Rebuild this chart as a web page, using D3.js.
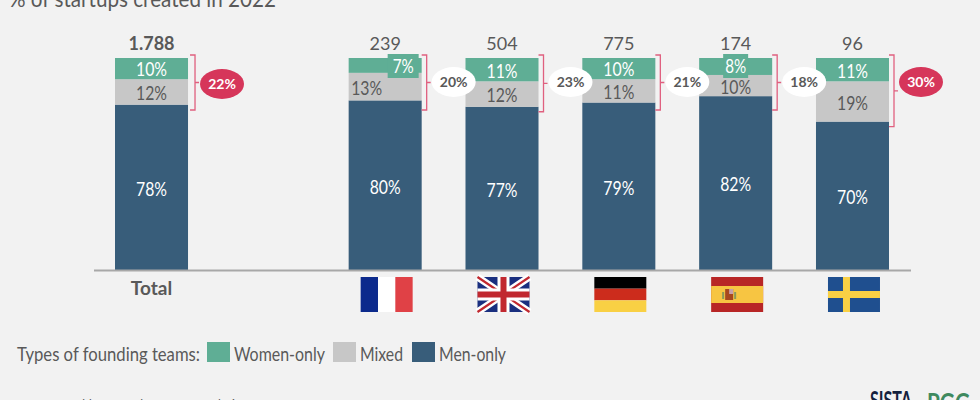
<!DOCTYPE html>
<html>
<head>
<meta charset="utf-8">
<script src="https://cdn.jsdelivr.net/npm/d3@7"></script>
<style>
  html, body { margin: 0; padding: 0; background: #f2f2f2; overflow: hidden; }
  svg { display: block; font-family: Lato, sans-serif; }
  text { fill: #595959; }
</style>
</head>
<body>
<script>
// chart data
const categories = ["Total", "blank", "France", "UK", "Germany", "Spain", "Sweden"];
const countries = ["Total", "France", "UK", "Germany", "Spain", "Sweden"];
const teamCounts = ["1.788", "239", "504", "775", "174", "96"];
const womenOnly = [10, 7, 11, 10, 8, 11];
const mixed = [12, 13, 12, 11, 10, 19];
const menOnly = [78, 80, 77, 79, 82, 70];
const withWomen = [22, 20, 23, 21, 18, 30];
const highlighted = ["Total", "Sweden"];
const seriesKeys = ["men", "mixed", "women"];
const seriesNames = ["Women-only", "Mixed", "Men-only"];
const legendTitle = "Types of founding teams:";
const title = "% of startups created in 2022";
const source = "Source: Crunchbase, Dealroom, 2SS analysis";

const width = 980;
const height = 400;
const colors = { women: "#5fae95", mixed: "#c7c7c7", men: "#385d7a" };
const pink = "#d6365a";

const rows = countries.map((c, i) => ({
  country: c,
  count: teamCounts[i],
  women: womenOnly[i],
  mixed: mixed[i],
  men: menOnly[i],
  share: withWomen[i],
}));

const svg = d3.select("body").append("svg").attr("width", width).attr("height", height);

const x = d3.scaleBand().domain(categories).range([115, 889]).paddingInner(0.375);
const y = d3.scaleLinear().domain([0, 100]).range([270, 58]);

svg
  .append("text")
  .attr("x", 9)
  .attr("y", 7)
  .attr("font-size", 24)
  .attr("textLength", 267)
  .attr("lengthAdjust", "spacingAndGlyphs")
  .text(title);

// stacked bars
const stacked = d3.stack().keys(seriesKeys)(rows);
svg
  .append("g")
  .selectAll("g")
  .data(stacked)
  .join("g")
  .attr("fill", (s) => colors[s.key])
  .selectAll("rect")
  .data((s) => s)
  .join("rect")
  .attr("x", (d) => x(d.data.country))
  .attr("y", (d) => y(d[1]))
  .attr("width", x.bandwidth())
  .attr("height", (d) => y(d[0]) - y(d[1]));

// two small segments get a wider tab behind the label
const tabs = [
  { country: "France", dx: 54.5, w: 31 },
  { country: "Spain", dx: 36.5, w: 25 },
];
tabs.forEach((t) => {
  const r = rows.find((d) => d.country === t.country);
  svg
    .append("rect")
    .attr("x", x(t.country) + t.dx - t.w / 2)
    .attr("y", y(100) - 4)
    .attr("width", t.w)
    .attr("height", 24)
    .attr("fill", colors.women);
  r.womenDx = t.dx;
});

// segment labels
const labels = svg.append("g").attr("text-anchor", "middle").attr("font-size", 19);
const labelShift = { men: 1.5, mixed: 1.5, women: 1 };
stacked.forEach((s) => {
  labels
    .selectAll(null)
    .data(s)
    .join("text")
    .attr("x", (d) => {
      if (s.key === "women" && d.data.womenDx) return x(d.data.country) + d.data.womenDx;
      if (s.key === "mixed" && d.data.country === "France") return x(d.data.country) + 18;
      return x(d.data.country) + x.bandwidth() / 2;
    })
    .attr("y", (d) => {
      if (s.key === "women" && d.data.womenDx) return y(100) + 8.5;
      return (y(d[0]) + y(d[1])) / 2 + labelShift[s.key];
    })
    .attr("dy", "0.36em")
    .attr("textLength", (d) => (d.data[s.key] < 10 ? 21 : 31))
    .attr("lengthAdjust", "spacingAndGlyphs")
    .style("fill", s.key === "mixed" ? "#595959" : "#fff")
    .text((d) => d.data[s.key] + "%");
});

// totals above the bars
svg
  .append("g")
  .attr("text-anchor", "middle")
  .attr("font-size", 18)
  .selectAll("text")
  .data(rows)
  .join("text")
  .attr("x", (d) => x(d.country) + x.bandwidth() / 2)
  .attr("y", 50)
  .attr("font-weight", (d) => (d.country === "Total" ? "bold" : "normal"))
  .text((d) => d.count);

// brackets and share bubbles
const bracket = svg.append("g").attr("fill", "none").attr("stroke", "#e0607f").attr("stroke-width", 1.3);
rows.forEach((d) => {
  const bx = x(d.country) + x.bandwidth() + (d.country === "Total" ? 2 : 0);
  const top = 55;
  const bottom = Math.max(110, y(d.men) + 5);
  const mid = (top + bottom) / 2;
  bracket
    .append("path")
    .attr("d", `M${bx},${top}H${bx + 5}V${bottom}H${bx}M${bx + 5},${mid}H${bx + 9}`);
  const hot = highlighted.includes(d.country);
  const cx = bx + 32;
  const cy = d.country === "Total" ? 84 : 82;
  svg
    .append("ellipse")
    .attr("cx", cx)
    .attr("cy", cy)
    .attr("rx", 22)
    .attr("ry", 15)
    .attr("fill", hot ? pink : "#fff");
  svg
    .append("text")
    .attr("x", cx)
    .attr("y", cy)
    .attr("dy", "0.36em")
    .attr("text-anchor", "middle")
    .attr("font-size", 14)
    .attr("font-weight", "bold")
    .style("fill", hot ? "#fff" : "#595959")
    .text(d.share + "%");
});

// x axis, only Total has a text label, the rest get flags
const axis = svg
  .append("g")
  .attr("transform", "translate(0,270)")
  .call(d3.axisBottom(x).tickSize(0).tickPadding(12).tickFormat((d) => (d === "Total" ? d : "")));
axis.select(".domain").remove();
axis.selectAll("text").attr("font-size", 19).attr("font-weight", "bold").attr("font-family", "Lato, sans-serif");
svg.append("line").attr("x1", 94).attr("x2", 911).attr("y1", 270.5).attr("y2", 270.5).attr("stroke", "#a8a8a8").attr("stroke-width", 2);

// flags
const flagW = 52;
const flagH = 35;
const flagG = (c) =>
  svg.append("g").attr("transform", `translate(${x(c) + 12},277)`);
const band = (g, fx, fy, w, h, fill) =>
  g.append("rect").attr("x", fx).attr("y", fy).attr("width", w).attr("height", h).attr("fill", fill);

const fr = flagG("France");
band(fr, 0, 0, flagW / 3, flagH, "#0c2a8c");
band(fr, flagW / 3, 0, flagW / 3, flagH, "#fff");
band(fr, (2 * flagW) / 3, 0, flagW / 3, flagH, "#e04146");

const uk = flagG("UK");
band(uk, 0, 0, flagW, flagH, "#1a2f7f");
uk.append("path").attr("d", `M0,0L${flagW},${flagH}M${flagW},0L0,${flagH}`).attr("stroke", "#fff").attr("stroke-width", 7);
uk.append("path").attr("d", `M0,0L${flagW},${flagH}M${flagW},0L0,${flagH}`).attr("stroke", "#c1282f").attr("stroke-width", 2.2);
band(uk, 20, 0, 12, flagH, "#fff");
band(uk, 0, 11.5, flagW, 12, "#fff");
band(uk, 23, 0, 6, flagH, "#c1282f");
band(uk, 0, 14.5, flagW, 6, "#c1282f");

const de = flagG("Germany");
band(de, 0, 0, flagW, flagH / 3, "#000");
band(de, 0, flagH / 3, flagW, flagH / 3, "#cc2c1c");
band(de, 0, (2 * flagH) / 3, flagW, flagH / 3, "#f9d044");

const es = flagG("Spain");
band(es, 0, 0, flagW, flagH, "#b82626");
band(es, 0, 9, flagW, 17, "#f7c542");
band(es, 14, 12, 8, 11, "#a8481f");
band(es, 18, 12, 4, 5, "#c9a0a8");
band(es, 11, 15, 2, 7, "#8a9a5a");
band(es, 23, 15, 2, 7, "#8a9a5a");

const se = flagG("Sweden");
band(se, 0, 0, flagW, flagH, "#1f4f8f");
band(se, 15, 0, 7, flagH, "#f9d044");
band(se, 0, 14, flagW, 7, "#f9d044");

// legend
const legY = 354;
const legendText = (tx, tw, str) =>
  svg
    .append("text")
    .attr("x", tx)
    .attr("y", legY)
    .attr("dy", "0.36em")
    .attr("font-size", 19)
    .attr("textLength", tw)
    .attr("lengthAdjust", "spacingAndGlyphs")
    .text(str);
legendText(17, 183, legendTitle);
const swatchX = [207, 333, 412];
const legendWidths = [91, 43, 67];
const legendKeys = ["women", "mixed", "men"];
seriesNames.forEach((name, i) => {
  svg.append("rect").attr("x", swatchX[i]).attr("y", 342).attr("width", 23).attr("height", 20).attr("fill", colors[legendKeys[i]]);
  legendText(swatchX[i] + 27, legendWidths[i], name);
});

// footer, cut off by the bottom edge
svg.append("text").attr("x", 9).attr("y", 408).attr("font-size", 12).attr("textLength", 231).text(source);
svg
  .append("text")
  .attr("x", 870)
  .attr("y", 409)
  .attr("font-size", 24)
  .attr("font-weight", "bold")
  .attr("textLength", 42)
  .attr("lengthAdjust", "spacingAndGlyphs")
  .style("fill", "#14213d")
  .text("SISTA");
svg
  .append("text")
  .attr("x", 927)
  .attr("y", 412)
  .attr("font-size", 27)
  .attr("font-weight", "bold")
  .attr("textLength", 43)
  .attr("lengthAdjust", "spacingAndGlyphs")
  .style("fill", "#3f8a5f")
  .text("PGG");
</script>
</body>
</html>
